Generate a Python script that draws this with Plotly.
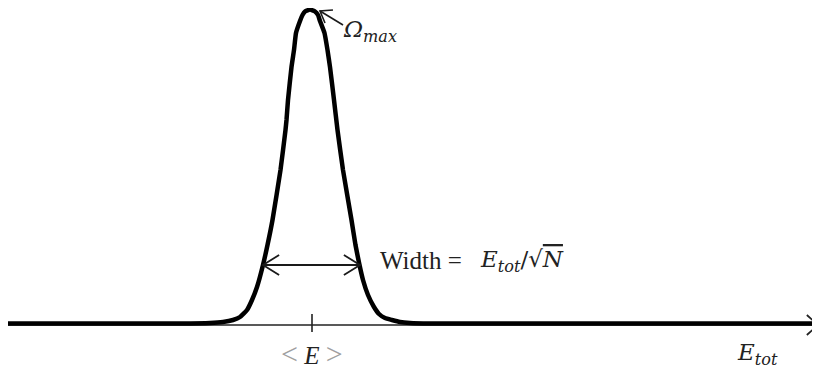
import numpy as np
import plotly.graph_objs as go

# energy axis is in arbitrary units, Omega measured up from the E axis
E_vals = [4, 100, 180, 210, 223, 233, 240, 247, 252, 257, 263, 267.5, 272.5,
          280.5, 285.5, 286.5, 288, 291.5, 294, 296, 300, 302.5, 305, 310,
          315, 318, 320, 324.5, 327.5, 330, 334, 337.5, 343, 351.5, 355.5,
          359.5, 363, 368, 374, 379, 385, 392, 400, 410, 430, 812]
Omega_vals = [1.5, 1.5, 1.5, 2, 3, 5, 8, 15, 25, 38, 60, 80, 105,
              155, 195, 205, 225, 258, 275, 292, 304, 310, 313.5, 315.5,
              313.5, 310, 304, 292, 275, 258, 225, 195, 155, 105, 80,
              60, 45, 30, 18, 11, 7, 5, 3, 2, 1.5, 1.5]

E_mean = 312
width_E = [263, 360]
width_level = 60
peak_E, peak_Omega = 320, 314
label_E, label_Omega = 343, 300
E_axis_end = 818

bracket = '<span style="color:#a0a0a0;font-size:30px">{}</span>'
E_label = bracket.format('&lt;') + ' <i>E</i> ' + bracket.format('&gt;')
Etot_label = '<i>E</i><sub><i>tot</i></sub>'
width_text = 'Width ='
width_formula = '<i>E</i><sub><i>tot</i></sub>/√<span style="text-decoration:overline"><i>N</i></span>'
omega_text = '<i>Ω</i><sub><i>max</i></sub>'


def chevron(tip, tail, length, angle):
    u = np.array(tip, float) - np.array(tail, float)
    u = u / np.linalg.norm(u)
    pts = []
    for a in (angle, -angle):
        a = np.radians(a)
        r = np.array([u[0]*np.cos(a) - u[1]*np.sin(a), u[0]*np.sin(a) + u[1]*np.cos(a)])
        pts.append(np.array(tip) - length * r)
    return [pts[0][0], tip[0], pts[1][0]], [pts[0][1], tip[1], pts[1][1]]


data = []
line_style = dict(color='#1a1a1a', width=1.8)

# E axis with arrowhead
data.append(go.Scatter(x=[0, E_axis_end], y=[0, 0], mode='lines',
                       line=dict(color='#222222', width=1.6)))
hx, hy = chevron((E_axis_end, 0), (0, 0), 15, 42)
data.append(go.Scatter(x=hx, y=hy, mode='lines', line=dict(color='#222222', width=1.8)))

# tick at the mean energy
data.append(go.Scatter(x=[E_mean, E_mean], y=[-7, 11], mode='lines',
                       line=dict(color='#222222', width=1.6)))

# the distribution
data.append(go.Scatter(x=E_vals, y=Omega_vals, mode='lines',
                       line=dict(color='black', width=4.5, shape='spline', smoothing=0.4)))

# width double arrow
data.append(go.Scatter(x=width_E, y=[width_level, width_level], mode='lines', line=line_style))
for tip, tail in ((width_E[0], width_E[1]), (width_E[1], width_E[0])):
    cx, cy = chevron((tip, width_level), (tail, width_level), 19, 32)
    data.append(go.Scatter(x=cx, y=cy, mode='lines', line=line_style))

# Omega_max pointer
data.append(go.Scatter(x=[label_E, peak_E], y=[label_Omega, peak_Omega], mode='lines',
                       line=dict(color='#1a1a1a', width=1.6)))
cx, cy = chevron((peak_E, peak_Omega), (label_E, label_Omega), 13, 36)
data.append(go.Scatter(x=cx, y=cy, mode='lines', line=dict(color='#1a1a1a', width=1.6)))

serif = 'Liberation Serif'
math = 'DejaVu Serif'
annotations = [
    dict(x=E_mean, y=-28, text=E_label, showarrow=False, xanchor='center',
         font=dict(family=serif, size=25, color='#222')),
    dict(x=735, y=-29, text=Etot_label, showarrow=False, xanchor='left',
         font=dict(family=math, size=23, color='#222')),
    dict(x=378, y=65, text=width_text, showarrow=False, xanchor='left',
         font=dict(family=serif, size=25, color='#222')),
    dict(x=478, y=64, text=width_formula, showarrow=False, xanchor='left',
         font=dict(family=math, size=23, color='#222')),
    dict(x=341, y=294, text=omega_text, showarrow=False, xanchor='left',
         font=dict(family=math, size=23, color='#222')),
]

# page body has an 8px margin, so the figure is 8px smaller and the ranges start 8px in
layout = go.Layout(
    width=812,
    height=361,
    showlegend=False,
    plot_bgcolor='white',
    paper_bgcolor='white',
    xaxis=dict(range=[8, 820], visible=False),
    yaxis=dict(range=[-44, 317], visible=False),
    margin=dict(r=0, t=0, b=0, l=0, pad=0),
    annotations=annotations,
)

fig = go.Figure(data=data, layout=layout)
fig.write_html("out.html")
